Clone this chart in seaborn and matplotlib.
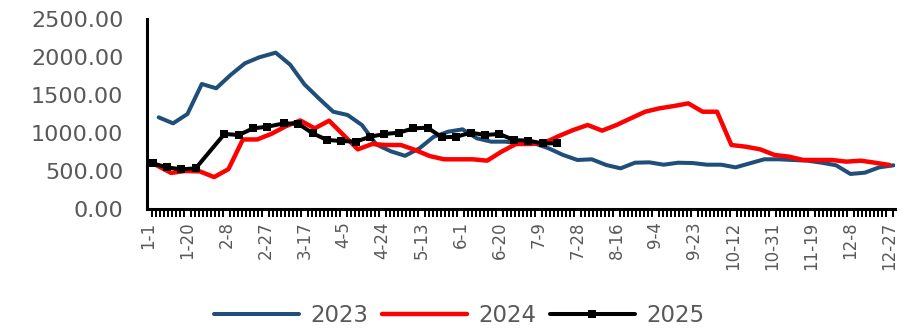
import matplotlib
matplotlib.use("Agg")
import matplotlib.pyplot as plt
from matplotlib.ticker import MultipleLocator
import numpy as np
import pandas as pd
import seaborn as sns

# Weekly series (one value per week, first week given by the start date)
start_2023 = "2023-01-06"
values_2023 = [1206, 1127, 1250, 1645, 1588, 1763, 1917, 1996, 2057, 1900,
               1640, 1456, 1280, 1237, 1105, 850, 760, 700, 798, 951,
               1017, 1048, 930, 886, 886, 864, 864, 798, 711, 645,
               654, 579, 535, 609, 614, 583, 609, 605, 583, 583,
               548, 601, 654, 654, 645, 636, 609, 575, 461, 478,
               548, 575]

start_2024 = "2024-01-05"
values_2024 = [575, 475, 500, 495, 420, 525, 915, 915, 990, 1090,
               1165, 1061, 1162, 974, 785, 855, 842, 842, 776, 697,
               654, 654, 654, 636, 754, 855, 855, 873, 961, 1040,
               1105, 1031, 1105, 1193, 1280, 1325, 1355, 1390, 1280, 1280,
               842, 820, 785, 711, 689, 645, 645, 645, 623, 636,
               609, 579]

start_2025 = "2025-01-03"
skipped_2025 = ["2025-01-31"]  # Spring Festival week, no quote
values_2025 = [601, 548, 522, 535, 987, 974, 1061, 1083, 1127, 1122,
               996, 908, 895, 886, 951, 987, 1004, 1061, 1070, 943,
               951, 1004, 974, 987, 908, 899, 864, 864]

# Month-day labels along a shared (leap-year) calendar axis
tick_labels = ["1-1", "1-20", "2-8", "2-27", "3-17", "4-5", "4-24", "5-13",
               "6-1", "6-20", "7-9", "7-28", "8-16", "9-4", "9-23", "10-12",
               "10-31", "11-19", "12-8", "12-27"]

BLUE = "#1F4E79"
RED = "#FF0000"
BLACK = "#000000"
GREY = "#595959"


def weekly_dates(start, n, skip=()):
    dates = pd.date_range(start, periods=n + len(skip), freq="7D")
    return dates[~dates.isin(pd.to_datetime(list(skip)))]


def calendar_day(dates):
    # position of each month-day on a common 2024 calendar
    base = pd.Timestamp("2024-01-01")
    return [(pd.Timestamp(2024, d.month, d.day) - base).days for d in dates]


def tick_day(label):
    m, d = (int(v) for v in label.split("-"))
    return (pd.Timestamp(2024, m, d) - pd.Timestamp("2024-01-01")).days


sns.set_theme(style="white")
plt.rcParams["font.family"] = ["DejaVu Sans"]

fig = plt.figure(figsize=(9.02, 3.3), dpi=100)
ax = fig.add_axes([147 / 902, 121 / 330, 748 / 902, 190 / 330])

series = [
    ("2023", weekly_dates(start_2023, len(values_2023)), values_2023, BLUE, None, 2.9),
    ("2024", weekly_dates(start_2024, len(values_2024)), values_2024, RED, None, 3.2),
    ("2025", weekly_dates(start_2025, len(values_2025), skipped_2025), values_2025, BLACK, "s", 2.9),
]

for name, dates, vals, color, marker, lw in series:
    df = pd.DataFrame({"day": calendar_day(dates), "value": vals})
    kw = dict(marker=marker, markersize=5.5, markeredgewidth=0) if marker else {}
    sns.lineplot(data=df, x="day", y="value", ax=ax, color=color, linewidth=lw,
                 label=name, **kw)

ax.set_xlim(-0.7, 363.7)
ax.set_ylim(0, 2500)

yt = np.arange(0, 2501, 500)
ax.set_yticks(yt)
ax.set_yticklabels([f"{v:.2f}" for v in yt])

ax.set_xticks([tick_day(t) for t in tick_labels])
ax.set_xticklabels(tick_labels, rotation=90)
ax.xaxis.set_minor_locator(MultipleLocator(1.9))

ax.set_xlabel("")
ax.set_ylabel("")
sns.despine(ax=ax)
for side in ("left", "bottom"):
    ax.spines[side].set_color(BLACK)
    ax.spines[side].set_linewidth(2.2)

ax.tick_params(axis="y", which="major", direction="out", length=10, width=1.6,
               color=BLACK, labelsize=16, labelcolor=GREY, pad=7)
ax.tick_params(axis="x", which="both", direction="out", length=5.5, width=1.4,
               color=BLACK, labelsize=12, labelcolor=GREY, pad=3.5)
ax.tick_params(axis="x", which="minor", bottom=True)
ax.grid(False)

handles, labels = ax.get_legend_handles_labels()
ax.get_legend().remove()
fig.legend(handles, labels, loc="center", bbox_to_anchor=(0.509, 0.045), ncol=3,
           frameon=False, fontsize=16.5, handlelength=3.7, handletextpad=0.5,
           columnspacing=0.6, labelcolor=GREY, borderpad=0, numpoints=1)

fig.savefig("out.png", dpi=100, facecolor="white")
